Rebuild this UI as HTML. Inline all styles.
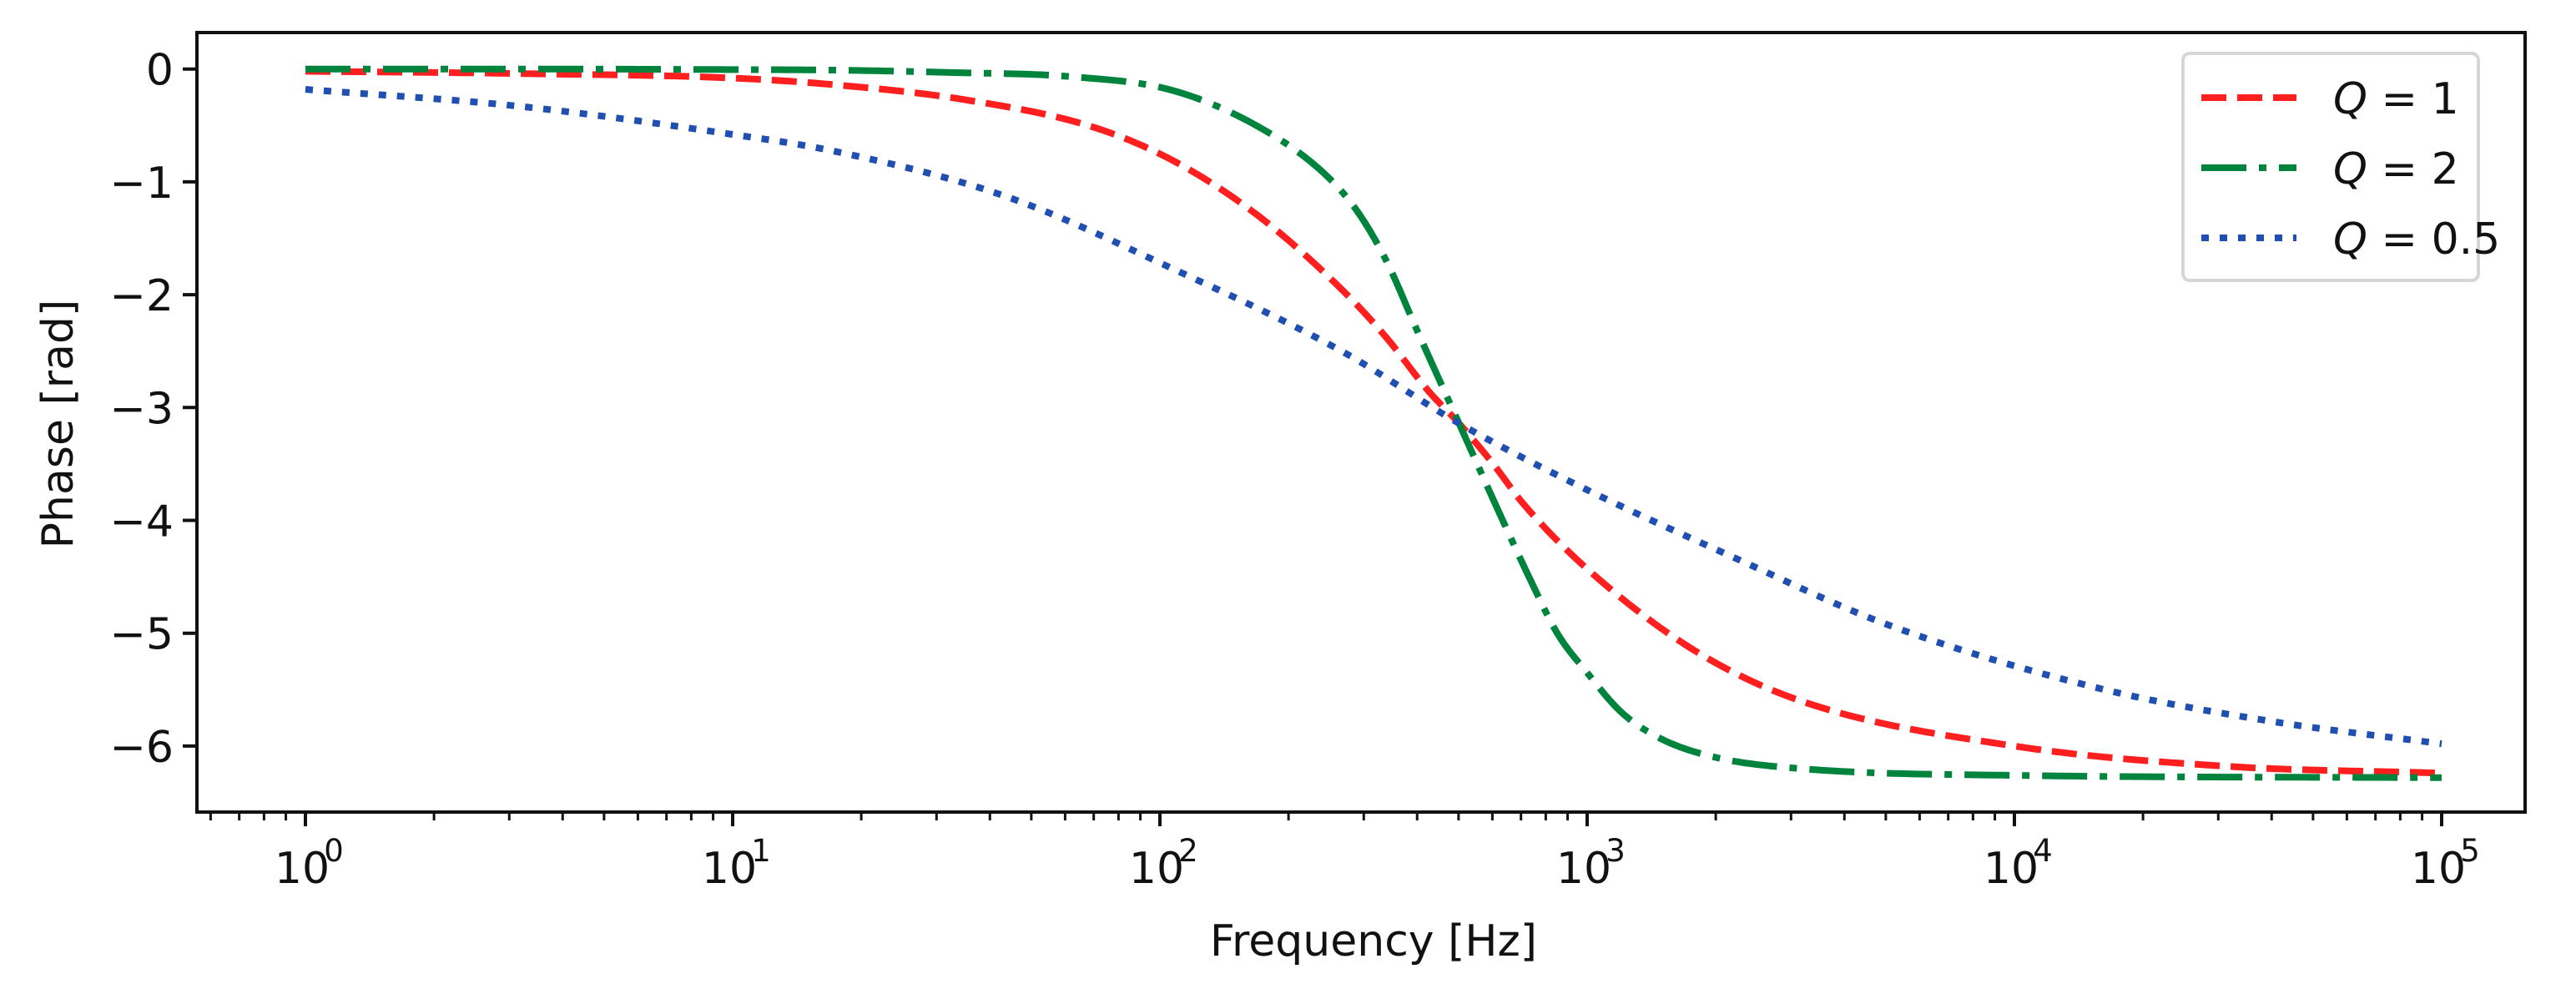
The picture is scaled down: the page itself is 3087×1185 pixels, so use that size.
<!DOCTYPE html>
<html><head><meta charset="utf-8"><style>
html,body{margin:0;padding:0;background:#fff;}
svg{display:block;font-family:"DejaVu Sans","Liberation Sans",sans-serif;}
</style></head><body>
<svg id="chart" width="3087" height="1185" viewBox="0 0 3087 1185" xmlns="http://www.w3.org/2000/svg">
<rect x="0" y="0" width="3087" height="1185" fill="#fff"/>
<g id="plot"></g>
</svg>
<script>
// ---- data ----
const xTickExps = [0, 1, 2, 3, 4, 5];
const yTicks = [0, -1, -2, -3, -4, -5, -6];
const q1LogF = [0, 0.5, 1, 1.24, 1.54, 1.84, 2.03, 2.23, 2.43, 2.53, 2.63, 2.7, 2.78, 2.85, 3, 3.25, 3.5, 4, 4.5, 5];
const q1Phase = [-0.02, -0.04, -0.08, -0.14, -0.27, -0.51, -0.81, -1.3, -1.97, -2.38, -2.86, -3.14, -3.5, -3.85, -4.43, -5.15, -5.6, -6.0, -6.18, -6.24];
const q2LogF = [0, 0.5, 1, 1.24, 1.5, 1.8, 2.03, 2.23, 2.38, 2.46, 2.53, 2.6, 2.7, 2.8, 2.87, 2.93, 3, 3.08, 3.17, 3.3, 3.5, 4, 5];
const q2Phase = [0, 0, -0.005, -0.01, -0.03, -0.07, -0.19, -0.51, -0.91, -1.25, -1.7, -2.3, -3.14, -3.98, -4.55, -5.0, -5.35, -5.7, -5.93, -6.1, -6.2, -6.26, -6.28];
const q05LogF = [0, 0.5, 1, 1.24, 1.64, 2.03, 2.43, 2.7, 3, 3.35, 3.7, 4.2, 4.6, 5];
const q05Phase = [-0.18, -0.33, -0.58, -0.73, -1.13, -1.77, -2.51, -3.14, -3.73, -4.34, -4.92, -5.49, -5.78, -5.98];

const NS = "http://www.w3.org/2000/svg";
const L = 236, R = 3026, T = 39, B = 973;
const x = lf => 366 + lf * 512;
const y = v => 82.7 - v * 135.2;
const g = document.getElementById('plot');
function mk(tag, attrs, parent) {
  const e = document.createElementNS(NS, tag);
  for (const k in attrs) e.setAttribute(k, attrs[k]);
  (parent || g).appendChild(e);
  return e;
}
function smoothPath(xs, ys) {
  const n = xs.length, d = [], m = new Array(n);
  for (let i = 0; i < n - 1; i++) d.push((ys[i + 1] - ys[i]) / (xs[i + 1] - xs[i]));
  m[0] = d[0]; m[n - 1] = d[n - 2];
  for (let i = 1; i < n - 1; i++) m[i] = (d[i - 1] * d[i] <= 0) ? 0 : (d[i - 1] + d[i]) / 2;
  for (let i = 0; i < n - 1; i++) {
    if (d[i] === 0) { m[i] = 0; m[i + 1] = 0; continue; }
    const a = m[i] / d[i], b = m[i + 1] / d[i], s = a * a + b * b;
    if (s > 9) { const t = 3 / Math.sqrt(s); m[i] = t * a * d[i]; m[i + 1] = t * b * d[i]; }
  }
  let path = `M${x(xs[0])},${y(ys[0])}`;
  for (let i = 0; i < n - 1; i++) {
    const h = xs[i + 1] - xs[i];
    const steps = 30;
    for (let k = 1; k <= steps; k++) {
      const t = k / steps, t2 = t * t, t3 = t2 * t;
      const v = (2 * t3 - 3 * t2 + 1) * ys[i] + (t3 - 2 * t2 + t) * h * m[i] + (-2 * t3 + 3 * t2) * ys[i + 1] + (t3 - t2) * h * m[i + 1];
      path += ` L${x(xs[i] + t * h).toFixed(2)},${y(v).toFixed(2)}`;
    }
  }
  return path;
}
const series = [
  {xs: q1LogF, ys: q1Phase, color: '#ff1f1f', dash: '30 13', name: 'series-q1', label: '1'},
  {xs: q2LogF, ys: q2Phase, color: '#00843d', dash: '54 15 9 15', name: 'series-q2', label: '2'},
  {xs: q05LogF, ys: q05Phase, color: '#1f4fb0', dash: '9 13', name: 'series-q05', label: '0.5'}
];
series.forEach(s => {
  const p = mk('path', {d: smoothPath(s.xs, s.ys), fill: 'none', stroke: s.color, 'stroke-width': 8, 'stroke-dasharray': s.dash});
  
  
});
const frame = mk('rect', {x: L, y: T, width: R - L, height: B - T, fill: 'none', stroke: '#111', 'stroke-width': 4});


yTicks.forEach(v => {
  mk('line', {x1: L - 17, x2: L, y1: y(v), y2: y(v), stroke: '#111', 'stroke-width': 4});
  const t = mk('text', {x: L - 28, y: y(v) + 19, 'text-anchor': 'end', 'font-size': 52, fill: '#111'});
  t.textContent = (v < 0 ? '\u2212' + (-v) : '0');
  
  
});
for (let e = -1; e <= 5; e++) {
  for (let m = 2; m <= 9; m++) {
    const lf = e + Math.log10(m);
    const px = x(lf);
    if (px > L + 2 && px < R - 2) mk('line', {x1: px, x2: px, y1: B, y2: B + 10, stroke: '#111', 'stroke-width': 3});
  }
}
xTickExps.forEach(e => {
  mk('line', {x1: x(e), x2: x(e), y1: B, y2: B + 17, stroke: '#111', 'stroke-width': 4});
  const t = mk('text', {x: x(e) - 4, y: 1058, 'text-anchor': 'middle', 'font-size': 52, fill: '#111'});
  t.textContent = '10';
  
  
  const s = mk('text', {x: x(e) + 34, y: 1032, 'text-anchor': 'middle', 'font-size': 37, fill: '#111'});
  s.textContent = String(e);
  
  
});
const xt = mk('text', {x: 1646, y: 1145, 'text-anchor': 'middle', 'font-size': 52, fill: '#111'});
xt.textContent = 'Frequency [Hz]';


const yt = mk('text', {x: 0, y: 0, 'text-anchor': 'middle', 'font-size': 52, fill: '#111', transform: 'translate(87,508) rotate(-90)'});
yt.textContent = 'Phase [rad]';


const lg = mk('g', {});


mk('rect', {x: 2616, y: 64, width: 354, height: 272, rx: 8, fill: '#fff', stroke: '#d6d6d6', 'stroke-width': 4}, lg);
series.forEach((s, i) => {
  const ry = 117 + i * 84;
  const ent = mk('g', {}, lg);
  
  
  mk('line', {x1: 2638, x2: 2752, y1: ry, y2: ry, stroke: s.color, 'stroke-width': 8, 'stroke-dasharray': s.dash}, ent);
  const t = mk('text', {x: 2796, y: ry + 19, 'font-size': 52, fill: '#111'}, ent);
  const q = mk('tspan', {'font-style': 'italic'}, t);
  q.textContent = 'Q';
  const r = mk('tspan', {}, t);
  r.textContent = ' = ' + s.label;
});
</script>
</body></html>
